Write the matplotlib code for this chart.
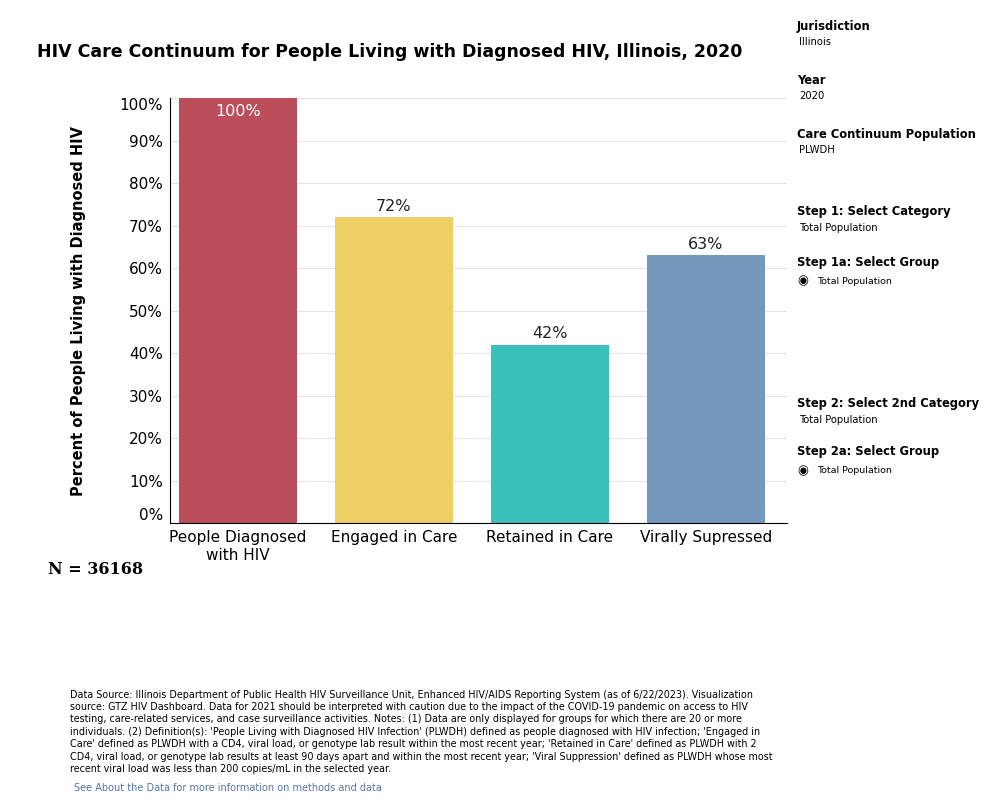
import matplotlib
matplotlib.use("Agg")
import matplotlib.pyplot as plt

categories = ["People Diagnosed\nwith HIV", "Engaged in Care", "Retained in Care", "Virally Supressed"]
values = [100, 72, 42, 63]
colors = ["#BC4E5C", "#EDCF64", "#3BC1BB", "#7598BD"]
yticks = [0, 10, 20, 30, 40, 50, 60, 70, 80, 90, 100]

plt.rcParams['font.family'] = ['DejaVu Sans']
fig = plt.figure(figsize=(10, 8), dpi=100)
ax = fig.add_axes([0.17, 0.346, 0.617, 0.5315])
x = range(len(categories))
ax.bar(x, values, width=0.76, color=colors, zorder=2)
ax.set_xlim(-0.436, 3.52)
ax.set_ylim(0, 100)
ax.set_yticks(yticks)
ax.set_yticklabels([f"{v}%" for v in yticks], fontsize=11)
labs = ax.get_yticklabels()
labs[0].set_va('bottom'); labs[-1].set_va('top')
ax.set_xticks(list(x))
ax.set_xticklabels(categories, fontsize=11, linespacing=1.25)
ax.tick_params(length=0, pad=5)
ax.grid(axis='y', color='#e6e6e6', lw=0.8, zorder=0)
for s in ['top', 'right']:
    ax.spines[s].set_visible(False)
for s in ['left', 'bottom']:
    ax.spines[s].set_color('black'); ax.spines[s].set_linewidth(0.8)
for i, v in enumerate(values):
    if v >= 99:
        ax.text(i, v - 1.5, f"{v}%", ha='center', va='top', color='white', fontsize=11.5)
    else:
        ax.text(i, v + 0.8, f"{v}%", ha='center', va='bottom', color='#222', fontsize=11.5)
ax.set_ylabel("Percent of People Living with Diagnosed HIV", fontsize=10.5, fontweight='bold', labelpad=24)

fig.text(0.037, 0.935, "HIV Care Continuum for People Living with Diagnosed HIV, Illinois, 2020",
         fontsize=12.5, fontweight='bold', va='center')
fig.text(0.048, 0.288, "N = 36168", fontsize=11.5, fontweight='bold', family='DejaVu Serif', va='center')

side = [("Jurisdiction", "Illinois", 0.967, False), ("Year", "2020", 0.9, False),
        ("Care Continuum Population", "PLWDH", 0.832, False),
        ("Step 1: Select Category", "Total Population", 0.735, False),
        ("Step 1a: Select Group", "Total Population", 0.672, True),
        ("Step 2: Select 2nd Category", "Total Population", 0.495, False),
        ("Step 2a: Select Group", "Total Population", 0.435, True)]
for head, sub, y, radio in side:
    fig.text(0.797, y, head, fontsize=8.3, fontweight='bold', va='center')
    if radio:
        fig.text(0.797, y - 0.0235, "◉", fontsize=9, va='center')
        fig.text(0.817, y - 0.0235, sub, fontsize=6.8, va='center')
    else:
        fig.text(0.799, y - 0.0195, sub, fontsize=7.2, va='center')

note = ("Data Source: Illinois Department of Public Health HIV Surveillance Unit, Enhanced HIV/AIDS Reporting System (as of 6/22/2023). Visualization\n"
        "source: GTZ HIV Dashboard. Data for 2021 should be interpreted with caution due to the impact of the COVID-19 pandemic on access to HIV\n"
        "testing, care-related services, and case surveillance activities. Notes: (1) Data are only displayed for groups for which there are 20 or more\n"
        "individuals. (2) Definition(s): 'People Living with Diagnosed HIV Infection' (PLWDH) defined as people diagnosed with HIV infection; 'Engaged in\n"
        "Care' defined as PLWDH with a CD4, viral load, or genotype lab result within the most recent year; 'Retained in Care' defined as PLWDH with 2\n"
        "CD4, viral load, or genotype lab results at least 90 days apart and within the most recent year; 'Viral Suppression' defined as PLWDH whose most\n"
        "recent viral load was less than 200 copies/mL in the selected year.")
fig.text(0.07, 0.138, note, fontsize=6.9, va='top', linespacing=1.3)
fig.text(0.074, 0.009, "See About the Data for more information on methods and data",
         fontsize=7, color='#5577aa', va='bottom')
fig.savefig("out.png", dpi=100)
